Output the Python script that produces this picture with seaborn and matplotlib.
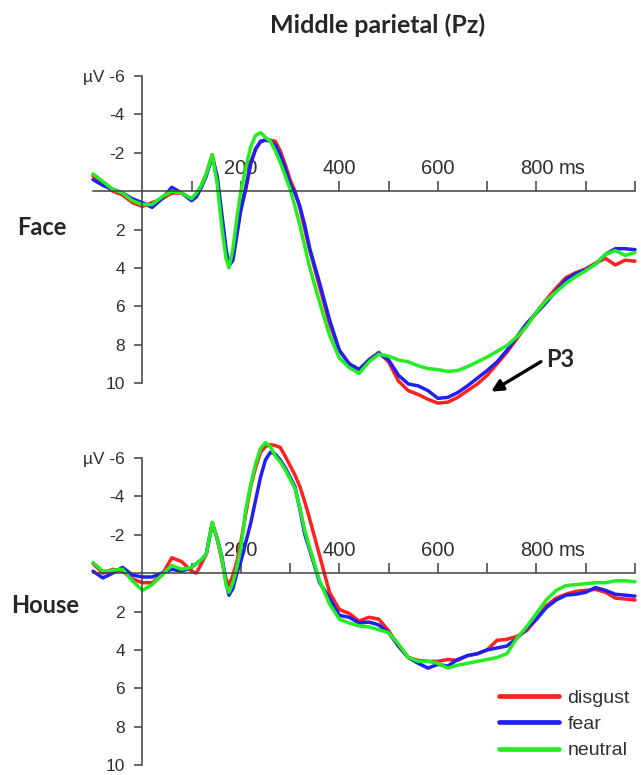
import matplotlib
matplotlib.use('Agg')
import numpy as np
import pandas as pd
import seaborn as sns
import matplotlib.pyplot as plt
from matplotlib.ticker import FixedLocator, NullFormatter

# time axis (ms) shared by all six waveforms
times = [-100, -80, -60, -40, -20, 0, 20, 40, 60, 80, 100,
         110, 120, 130,
         142, 152, 162, 170, 176, 184, 192,
         200, 210, 220, 230, 240, 250, 260, 270, 280, 290, 300, 310, 320, 330, 340,
         360, 380, 400, 420, 440, 460, 480, 500, 520, 540, 560, 580, 600, 620, 640,
         660, 680, 700, 720, 740, 760, 780, 800, 820, 840, 860, 880, 900, 920, 940,
         960, 980, 1000]

# Face, amplitude in microvolts (negative up)
face_disgust = [-0.8, -0.4, 0.0, 0.2, 0.6, 0.8, 0.6, 0.4, 0.1, 0.1, 0.4,
                0.2, -0.3, -0.9,
                -1.9, -0.6, 1.6, 3.2, 3.7, 3.3, 2.1,
                0.9, -0.2, -1.5, -2.2, -2.55, -2.7, -2.65, -2.6, -2.1, -1.4, -0.6, 0.0, 0.9, 2.0, 3.1,
                5.0, 6.9, 8.3, 9.0, 9.3, 8.8, 8.4, 8.9, 9.9, 10.4, 10.6, 10.85, 11.05, 11.0, 10.75,
                10.4, 10.05, 9.6, 9.0, 8.4, 7.7, 7.0, 6.3, 5.65, 5.05, 4.5, 4.25, 4.05, 3.75, 3.5,
                3.85, 3.6, 3.65]
face_fear = [-0.6, -0.3, -0.1, 0.1, 0.4, 0.6, 0.85, 0.4, -0.2, 0.1, 0.5,
             0.3, -0.2, -0.8,
             -1.8, -0.8, 1.3, 3.0, 3.9, 3.6, 2.3,
             1.0, -0.1, -1.4, -2.2, -2.6, -2.65, -2.6, -2.4, -1.9, -1.2, -0.4, 0.1, 0.8, 1.8, 3.0,
             4.8, 6.7, 8.3, 9.0, 9.3, 8.8, 8.45, 8.8, 9.6, 10.05, 10.15, 10.4, 10.8, 10.75, 10.5,
             10.15, 9.75, 9.35, 8.9, 8.3, 7.6, 6.9, 6.35, 5.8, 5.2, 4.6, 4.3, 4.1, 3.8, 3.3,
             3.0, 3.0, 3.05]
face_neutral = [-0.9, -0.5, -0.1, 0.1, 0.5, 0.7, 0.7, 0.3, 0.0, 0.1, 0.4,
                0.1, -0.3, -0.9,
                -1.9, -0.4, 2.0, 3.5, 4.0, 3.0, 1.4,
                0.0, -1.2, -2.3, -2.9, -3.05, -2.8, -2.6, -2.1, -1.5, -0.8, -0.1, 0.8, 1.8, 2.9, 4.0,
                5.8, 7.5, 8.7, 9.2, 9.5, 8.9, 8.5, 8.6, 8.8, 8.9, 9.1, 9.25, 9.3, 9.4, 9.35,
                9.15, 8.9, 8.65, 8.35, 8.05, 7.6, 7.05, 6.3, 5.7, 5.25, 4.8, 4.45, 4.15, 3.8, 3.3,
                3.1, 3.35, 3.2]

# House
house_disgust = [-0.5, 0.0, -0.2, -0.1, 0.3, 0.5, 0.5, 0.1, -0.8, -0.6, -0.1,
                 0.0, -0.5, -1.0,
                 -2.6, -1.8, -0.6, 0.3, 0.65, 0.1, -0.6,
                 -1.6, -3.1, -4.5, -5.5, -6.3, -6.6, -6.7, -6.65, -6.55, -6.1, -5.6, -5.1, -4.5, -3.7, -2.8,
                 -0.9, 1.0, 1.9, 2.1, 2.5, 2.3, 2.4, 3.0, 3.8, 4.4, 4.55, 4.6, 4.6, 4.5, 4.55,
                 4.3, 4.2, 4.0, 3.5, 3.45, 3.3, 3.0, 2.4, 1.7, 1.3, 1.1, 0.95, 0.9, 0.85, 1.0,
                 1.3, 1.35, 1.4]
house_fear = [-0.1, 0.25, 0.0, -0.3, 0.1, 0.2, 0.2, 0.0, -0.2, -0.1, -0.3,
              -0.5, -0.7, -1.0,
              -2.6, -1.8, -0.8, 0.5, 1.15, 0.8, 0.0,
              -0.6, -1.6, -2.6, -3.8, -5.0, -5.9, -6.3, -6.2, -5.9, -5.5, -5.0, -4.5, -3.3, -2.0, -1.2,
              0.5, 1.3, 2.2, 2.3, 2.6, 2.55, 2.7, 3.1, 3.8, 4.4, 4.7, 4.95, 4.75, 4.85, 4.5,
              4.3, 4.2, 4.0, 3.9, 3.8, 3.4, 2.9, 2.4, 1.8, 1.4, 1.15, 1.1, 1.0, 0.75, 0.9,
              1.1, 1.15, 1.2]
house_neutral = [-0.55, -0.1, -0.15, -0.2, 0.4, 0.9, 0.6, 0.1, -0.4, -0.2, -0.3,
                 -0.5, -0.7, -1.0,
                 -2.65, -1.8, -0.7, 0.6, 1.0, 0.5, -0.3,
                 -1.3, -3.3, -4.6, -5.7, -6.5, -6.8, -6.6, -6.1, -5.8, -5.4, -4.9, -4.4, -3.4, -2.2, -1.3,
                 0.4, 1.6, 2.4, 2.6, 2.75, 2.8, 2.95, 3.1, 3.7, 4.4, 4.6, 4.6, 4.7, 4.95, 4.8,
                 4.7, 4.6, 4.5, 4.4, 4.2, 3.4, 2.8, 2.1, 1.4, 0.9, 0.65, 0.6, 0.55, 0.5, 0.5,
                 0.4, 0.4, 0.45]

conditions = ['disgust', 'fear', 'neutral']
colors = {'disgust': '#ff2020', 'fear': '#2020f0', 'neutral': '#22ee22'}
y_ticks = [-6, -4, -2, 2, 4, 6, 8, 10]
y_labels = ['\u00b5V -6', '-4', '-2', '2', '4', '6', '8', '10']
x_major = [200, 400, 600, 800]
x_minor = [100, 300, 500, 700, 900, 1000]

sns.set_style('white')
plt.rcParams['font.family'] = ['Liberation Sans', 'DejaVu Sans']
bold_font = ['Lato', 'Open Sans', 'DejaVu Sans']
axis_col = '#404040'
text_col = '#303030'


def long_table(d, f, n):
    rows = []
    for name, vals in zip(conditions, [d, f, n]):
        rows.append(pd.DataFrame({'time': times, 'amplitude': vals, 'condition': name}))
    return pd.concat(rows, ignore_index=True)


def draw_panel(ax, table):
    sns.lineplot(data=table, x='time', y='amplitude', hue='condition',
                 hue_order=conditions, palette=colors, linewidth=2.5,
                 estimator=None, legend=False, clip_on=False, ax=ax)
    ax.set_xlim(-100, 1000)
    ax.set_ylim(10, -6)
    ax.set_xlabel('')
    ax.set_ylabel('')
    ax.patch.set_alpha(0)
    ax.spines[['top', 'right']].set_visible(False)
    ax.spines['left'].set_position(('data', 0))
    ax.spines['bottom'].set_position(('data', 0))
    for s in ['left', 'bottom']:
        ax.spines[s].set_color(axis_col)
        ax.spines[s].set_linewidth(1.1)
    ax.set_yticks(y_ticks)
    ax.set_yticklabels(y_labels)
    ax.xaxis.set_major_locator(FixedLocator(x_major))
    ax.xaxis.set_minor_locator(FixedLocator(x_minor))
    ax.xaxis.set_minor_formatter(NullFormatter())
    ax.set_xticklabels([str(v) for v in x_major])
    ax.tick_params(axis='y', direction='out', length=5.5, width=1.1, pad=7,
                   labelsize=12.5, color=axis_col, labelcolor=text_col, left=True)
    ax.tick_params(axis='x', which='both', direction='in', length=7.5, width=1.1,
                   pad=-23, labelsize=14.5, color=axis_col, labelcolor=text_col, bottom=True)
    ax.annotate('ms', xy=(800, 0), xycoords='data', xytext=(22, 17),
                textcoords='offset pixels', ha='left', va='baseline',
                fontsize=14.5, color=text_col, annotation_clip=False)


fig = plt.figure(figsize=(6.41, 7.75), dpi=100)
ax_face = fig.add_axes([93 / 641, 1 - 383 / 775, 542 / 641, 307 / 775])
ax_house = fig.add_axes([93 / 641, 1 - 765 / 775, 542 / 641, 307 / 775])

draw_panel(ax_face, long_table(face_disgust, face_fear, face_neutral))
draw_panel(ax_house, long_table(house_disgust, house_fear, house_neutral))

fig.text(378 / 641, 1 - 25 / 775, 'Middle parietal (Pz)', ha='center', va='center',
         fontsize=18, fontweight='bold', family=bold_font)
fig.text(17 / 641, 1 - 235 / 775, 'Face', ha='left', va='baseline',
         fontsize=17, fontweight='bold', family=bold_font)
fig.text(11 / 641, 1 - 613 / 775, 'House', ha='left', va='baseline',
         fontsize=17, fontweight='bold', family=bold_font)

# P3 marker
ax_face.text(820, 9.15, 'P3', ha='left', va='baseline', fontsize=17,
             fontweight='bold', family=bold_font)
ax_face.annotate('', xy=(708, 10.45), xytext=(809, 8.89),
                 arrowprops=dict(arrowstyle='-|>', color='black', lw=2.4,
                                 mutation_scale=17, shrinkA=0, shrinkB=0),
                 annotation_clip=False)

leg = ax_house.legend(ax_house.lines[:3], conditions, loc='upper left',
                      bbox_to_anchor=(499 / 641, 1 - 689 / 775),
                      bbox_transform=fig.transFigure, frameon=False, fontsize=14,
                      handlelength=3.1, handletextpad=0.41, labelspacing=0.45,
                      borderpad=0, borderaxespad=0)
for h in leg.get_lines():
    h.set_linewidth(3.4)
for t in leg.get_texts():
    t.set_color(text_col)

fig.savefig('out.png', dpi=100)
